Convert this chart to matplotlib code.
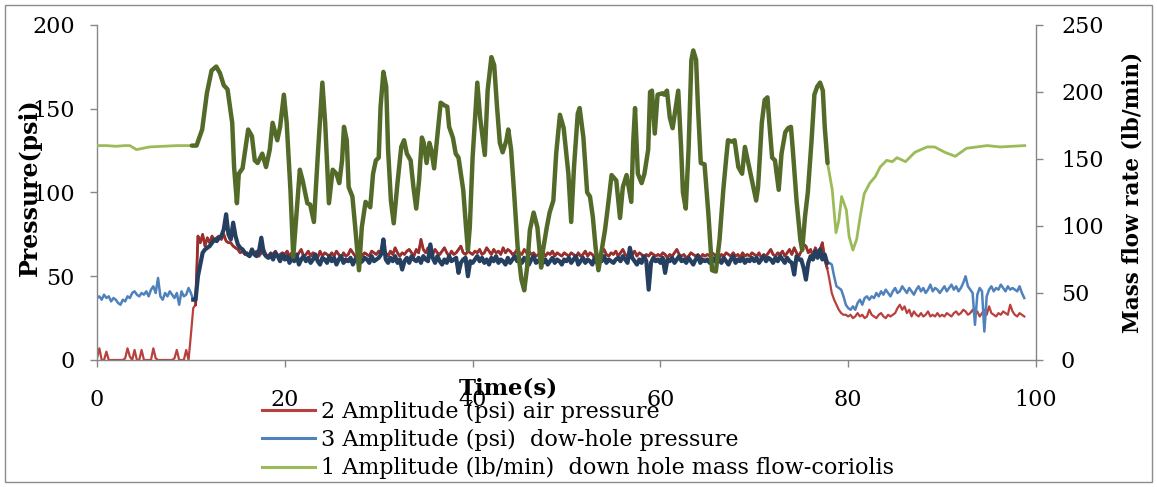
import numpy as np
import matplotlib
matplotlib.use("Agg")
import matplotlib.pyplot as plt
from matplotlib.patches import Rectangle
from matplotlib.lines import Line2D

# ---------------- data ----------------
dt = 0.25
air_psi = [
    1, 7, 0, 0, 5, 0, 0, 0, 0, 0, 0, 0, 1, 7, 2, 0, 6, 0, 0, 6,
    0, 0, 0, 0, 7, 1, 0, 0, 0, 0, 0, 0, 0, 1, 6, 0, 0, 0, 6, 0,
    15, 31, 33, 74, 70, 75, 68, 73, 70, 74, 71, 73, 74, 72, 75, 71, 70, 70, 68, 67,
    66, 64, 65, 63, 64, 62, 64, 63, 65, 62, 64, 66, 63, 62, 64, 63, 65, 62, 63, 64,
    63, 65, 62, 64, 63, 61, 64, 66, 62, 63, 65, 62, 64, 63, 61, 65, 62, 64, 63, 62,
    64, 62, 65, 63, 61, 64, 62, 63, 66, 64, 62, 63, 65, 62, 64, 63, 62, 65, 64, 63,
    65, 63, 66, 64, 62, 65, 63, 67, 64, 62, 64, 63, 65, 66, 64, 62, 66, 64, 72, 66,
    64, 67, 65, 63, 66, 64, 63, 65, 67, 64, 62, 65, 63, 64, 66, 68, 64, 63, 65, 64,
    63, 65, 64, 66, 63, 64, 67, 65, 63, 66, 64, 65, 63, 67, 64, 66, 65, 63, 64, 66,
    64, 63, 66, 64, 65, 63, 64, 62, 63, 65, 64, 62, 64, 63, 65, 62, 64, 63, 62, 64,
    63, 62, 64, 63, 61, 64, 62, 63, 65, 62, 64, 63, 61, 63, 62, 64, 66, 63, 62, 64,
    63, 65, 62, 64, 66, 63, 62, 64, 63, 65, 62, 64, 63, 61, 63, 62, 64, 63, 62, 63,
    62, 64, 63, 61, 63, 62, 64, 66, 63, 62, 63, 61, 62, 64, 63, 62, 63, 61, 63, 62,
    63, 62, 64, 63, 62, 61, 63, 62, 64, 63, 62, 64, 62, 63, 61, 64, 62, 63, 62, 64,
    63, 62, 64, 61, 63, 62, 64, 66, 63, 62, 64, 63, 65, 62, 64, 66, 63, 67, 64, 62,
    65, 69, 68, 64, 66, 62, 67, 64, 66, 70, 60, 55, 48, 40, 36, 33, 30, 28, 27, 27,
    26, 27, 25, 26, 28, 26, 27, 25, 26, 30, 27, 26, 25, 27, 28, 26, 25, 27, 26, 27,
    28, 31, 33, 30, 32, 28, 30, 26, 29, 27, 26, 28, 26, 27, 29, 26, 27, 26, 28, 26,
    27, 26, 28, 27, 26, 28, 29, 27, 28, 30, 29, 27, 28, 30, 27, 29, 26, 28, 30, 27,
    32, 28, 27, 26, 28, 27, 29, 28, 27, 33, 29, 27, 26, 28, 27, 26,
]
downhole_psi = [
    37, 38, 36, 39, 37, 38, 35, 37, 36, 34, 33, 36, 35, 38, 37, 40, 41, 39, 38, 40,
    39, 41, 38, 42, 44, 40, 49, 38, 36, 40, 38, 41, 39, 37, 40, 33, 41, 38, 39, 43,
    40, 36, 36, 50, 57, 64, 66, 67, 68, 70, 72, 71, 73, 74, 78, 87, 75, 72, 82, 74,
    69, 67, 66, 64, 63, 62, 66, 63, 62, 65, 73, 64, 62, 61, 63, 60, 64, 62, 59, 63,
    60, 62, 58, 61, 59, 63, 57, 60, 62, 59, 61, 58, 60, 63, 59, 57, 61, 60, 58, 62,
    59, 61, 57, 60, 62, 58, 60, 59, 61, 57, 60, 62, 58, 59, 61, 60, 58, 62, 59, 60,
    61, 63, 72, 60, 58, 61, 59, 62, 58, 60, 54, 59, 61, 58, 62, 60, 59, 61, 58, 62,
    60, 59, 69, 61, 58, 62, 59, 57, 60, 58, 62, 59, 60, 61, 52, 58, 60, 61, 50, 59,
    58, 60, 62, 59, 61, 58, 60, 57, 61, 59, 62, 58, 60, 59, 57, 61, 58, 60, 62, 59,
    60, 58, 61, 59, 57, 60, 62, 58, 59, 61, 58, 60, 57, 59, 61, 58, 60, 59, 57, 60,
    59, 61, 58, 60, 62, 57, 59, 61, 58, 60, 59, 57, 61, 58, 60, 59, 62, 58, 60, 59,
    58, 60, 61, 59, 62, 60, 58, 67, 61, 59, 57, 60, 58, 62, 59, 42, 58, 61, 59, 60,
    58, 61, 52, 60, 59, 61, 58, 60, 62, 59, 60, 58, 61, 59, 57, 60, 62, 58, 60, 59,
    60, 58, 61, 59, 62, 60, 58, 61, 59, 57, 60, 62, 58, 60, 59, 61, 58, 60, 59, 61,
    59, 61, 58, 60, 62, 59, 61, 60, 58, 61, 59, 62, 60, 58, 61, 59, 58, 51, 62, 60,
    60, 55, 48, 58, 62, 60, 65, 61, 66, 60, 63, 58, 58, 57, 50, 44, 43, 42, 38, 33,
    31, 30, 32, 30, 34, 36, 33, 37, 38, 36, 38, 37, 40, 38, 41, 39, 42, 40, 38, 41,
    43, 40, 41, 44, 42, 40, 43, 41, 39, 42, 44, 41, 43, 40, 42, 45, 41, 43, 42, 40,
    42, 44, 41, 43, 45, 42, 44, 41, 43, 46, 50, 44, 42, 40, 21, 39, 43, 41, 17, 38,
    42, 44, 41, 43, 42, 45, 43, 41, 44, 42, 43, 42, 41, 44, 40, 37,
]
flow_t = [0, 1, 2, 3, 3.5, 4.2, 5.6, 7, 8.5, 10.1, 10.6, 11.2, 11.7, 12.2, 12.7, 13.1,
          13.5, 13.9, 14.4, 14.6, 14.9, 15.1, 15.5, 16.1, 16.5, 16.8, 17.1, 17.6, 18.0,
          18.4, 18.7, 19.2, 19.5, 19.9, 20.2, 20.6, 20.9, 21.3, 21.6, 21.9, 22.4, 22.7,
          23.1, 23.5, 24.0, 24.3, 24.7, 25.1, 25.5, 25.8, 26.1, 26.3, 26.6, 26.8, 27.2,
          27.5, 27.9, 28.2, 28.6, 29.1, 29.4, 29.7, 30.0, 30.2, 30.5, 30.8, 31.0, 31.3,
          31.6, 32.0, 32.4, 32.7, 33.0, 33.4, 33.7, 34.0, 34.3, 34.6, 34.8, 35.1, 35.4,
          35.6, 35.9, 36.2, 36.6, 37.0, 37.3, 37.5, 37.9, 38.2, 38.5, 39.0, 39.3, 39.5,
          39.7, 40.0, 40.5, 40.8, 41.3, 41.6, 42.0, 42.3, 42.6, 42.9, 43.2, 43.6, 43.8,
          44.1, 44.4, 44.8, 45.2, 45.5, 45.8, 46.1, 46.5, 46.9, 47.3, 47.5, 47.9, 48.2,
          48.6, 48.9, 49.3, 49.7, 50.2, 50.5, 50.8, 51.2, 51.4, 51.8, 52.2, 52.5, 52.8,
          53.1, 53.4, 53.8, 54.1, 54.4, 54.8, 55.3, 55.7, 56.0, 56.4, 56.9, 57.1, 57.3,
          57.6, 58.0, 58.3, 58.7, 58.9, 59.1, 59.4, 59.7, 60.2, 60.4, 60.7, 61.0, 61.3,
          61.7, 61.9, 62.2, 62.4, 62.7, 63.0, 63.3, 63.5, 63.8, 64.0, 64.3, 64.7, 65.1,
          65.5, 65.9, 66.3, 66.7, 67.0, 67.2, 67.6, 67.9, 68.3, 68.7, 69.0, 69.3, 69.8,
          70.2, 70.4, 70.8, 71.1, 71.4, 71.6, 71.9, 72.2, 72.6, 72.9, 73.3, 73.6, 73.9,
          74.1, 74.5, 74.9, 75.1, 75.4, 75.7, 76.1, 76.4, 76.7, 77.0, 77.3, 77.5, 77.8,
          78.3, 78.7, 79.0, 79.3, 79.8, 80.1, 80.5, 80.9, 81.3, 81.7, 82.3, 82.9, 83.4,
          84.1, 84.7, 85.2, 86.1, 87.1, 88.4, 89.2, 90.3, 91.4, 92.6, 94.8, 96.2, 98.8]
flow_lbmin = [160, 160, 159.5, 160, 160, 157, 159, 159.5, 160, 160, 160, 172, 199, 216, 219, 214,
              205, 202, 177, 144, 117, 139, 143, 172, 167, 149, 147, 154, 144,
              157, 177, 164, 174, 198, 177, 127, 77, 114, 142, 134, 117, 116,
              103, 151, 207, 177, 117, 142, 139, 132, 149, 174, 164, 129, 122,
              99, 67, 99, 118, 114, 139, 149, 151, 189, 215, 204, 157, 119,
              102, 132, 159, 164, 154, 149, 129, 113, 134, 166, 162, 147, 162,
              157, 143, 164, 192, 190, 189, 174, 166, 154, 151, 127, 99, 82,
              99, 151, 207, 181, 153, 201, 226, 220, 189, 162, 155, 164, 172,
              157, 127, 84, 60, 52, 69, 97, 110, 99, 69, 82, 99, 110,
              119, 154, 183, 173, 139, 103, 144, 184, 188, 166, 125, 122, 107,
              84, 67, 84, 97, 114, 138, 134, 106, 129, 138, 118, 162, 188,
              139, 132, 139, 157, 200, 201, 169, 198, 199, 198, 201, 181, 173,
              192, 201, 159, 125, 113, 157, 224, 231, 224, 189, 147, 146, 110,
              67, 66, 90, 127, 150, 164, 163, 164, 144, 139, 159, 149, 132,
              119, 129, 177, 194, 196, 177, 151, 149, 127, 154, 170, 173, 174,
              157, 119, 90, 82, 107, 125, 164, 198, 204, 207, 201, 174, 147,
              127, 95, 104, 122, 112, 92, 82, 90, 108, 124, 132, 137, 144,
              149, 148, 151, 148, 155, 159, 159, 155, 152, 158, 160, 159, 160]

x_ticks = [0, 20, 40, 60, 80, 100]
left_ticks = [0, 50, 100, 150, 200]
right_ticks = [0, 50, 100, 150, 200, 250]
legend_labels = ["2 Amplitude (psi) air pressure",
                 "3 Amplitude (psi)  dow-hole pressure",
                 "1 Amplitude (lb/min)  down hole mass flow-coriolis"]

# ---------------- styling ----------------
C_RED = "#B8413E"
C_RED_D = "#9A2F2D"
C_BLUE = "#4F81BD"
C_NAVY = "#243F60"
C_GREEN = "#9BBB59"
C_GREEN_D = "#536A29"
C_AX = "#868686"

plt.rcParams['font.family'] = ['DejaVu Serif']

W, H = 1157, 487
fig = plt.figure(figsize=(W / 100, H / 100), dpi=100)
fig.patch.set_facecolor("white")

x0, x1, yb, yt = 97, 1036, 360, 25
ax1 = fig.add_axes([x0 / W, 1 - yb / H, (x1 - x0) / W, (yb - yt) / H])
ax2 = ax1.twinx()

t_p = np.arange(len(air_psi)) * dt
air = np.array(air_psi, dtype=float)
dh = np.array(downhole_psi, dtype=float)
ft = np.array(flow_t)
fv = np.array(flow_lbmin, dtype=float)

mid_p = (t_p >= 10.5) & (t_p <= 77.75)
mid_b = (t_p >= 10.25) & (t_p <= 77.75)
mid_f = (ft >= 10.1) & (ft <= 77.8)

ax1.plot(t_p, air, color=C_RED, lw=1.6, solid_joinstyle="round")
ax1.plot(t_p, dh, color=C_BLUE, lw=1.8, solid_joinstyle="round")
ax1.plot(t_p[mid_p], air[mid_p], color=C_RED_D, lw=2.0, solid_joinstyle="round")
ax1.plot(t_p[mid_b], dh[mid_b], color=C_NAVY, lw=3.0, solid_joinstyle="round")

ax2.plot(ft, fv, color=C_GREEN, lw=2.0, solid_joinstyle="round")
ax2.plot(ft[mid_f], fv[mid_f], color=C_GREEN_D, lw=3.2, solid_joinstyle="round",
         solid_capstyle="round")

ax1.set_xlim(0, 100)
ax1.set_ylim(0, 200)
ax2.set_ylim(0, 250)
ax1.set_xticks(x_ticks)
ax1.set_yticks(left_ticks)
ax2.set_yticks(right_ticks)

for ax in (ax1, ax2):
    ax.spines['top'].set_visible(False)
    for s in ('left', 'right', 'bottom'):
        ax.spines[s].set_color(C_AX)
        ax.spines[s].set_linewidth(1.0)
    ax.tick_params(axis='both', direction='out', length=5, width=1.0,
                   color=C_AX, labelsize=16, labelcolor='black')
ax1.spines['right'].set_visible(False)
ax2.spines['left'].set_visible(False)
ax2.spines['bottom'].set_visible(False)
ax1.tick_params(axis='x', pad=16)
ax1.tick_params(axis='y', pad=11)
ax2.tick_params(axis='y', pad=13)
ax1.patch.set_alpha(0)

fig.text(30 / W, 1 - 187 / H, "Pressure(psi)", rotation=90, fontsize=17,
         fontweight='bold', ha='center', va='center')
fig.text(1132 / W, 1 - 192 / H, "Mass flow rate (lb/min)", rotation=90, fontsize=15.5,
         fontweight='bold', ha='center', va='center')
fig.text(508 / W, 1 - 388 / H, "Time(s)", fontsize=16.5, fontweight='bold',
         ha='center', va='center')

handles = [Line2D([], [], color=C_RED, lw=2.2),
           Line2D([], [], color=C_BLUE, lw=2.2),
           Line2D([], [], color=C_GREEN, lw=2.2)]
fig.legend(handles, legend_labels, loc='upper left',
           bbox_to_anchor=(262 / W, 1 - 401 / H), frameon=False, fontsize=16,
           handlelength=2.4, handletextpad=0.25, labelspacing=0.27, borderpad=0,
           borderaxespad=0)

fig.add_artist(Rectangle((5 / W, 1 - 482 / H), (1152 - 5) / W, (482 - 5) / H,
                         transform=fig.transFigure, fill=False, edgecolor="#8C8C8C",
                         lw=1.0))

fig.savefig("out.png", dpi=100)
